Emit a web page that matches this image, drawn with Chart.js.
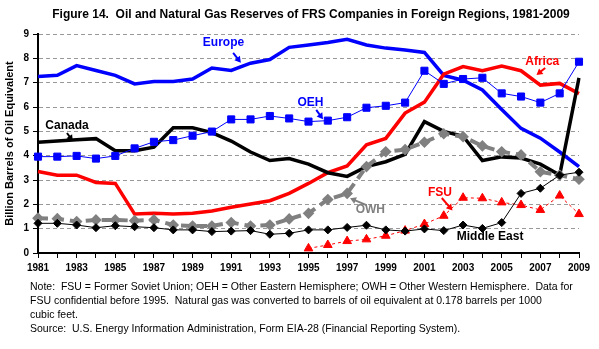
<!DOCTYPE html>
<html>
<head>
<meta charset="utf-8">
<script src="https://cdn.jsdelivr.net/npm/chart.js@4.4.1/dist/chart.umd.min.js"></script>
<style>
  body { margin: 0; background: #fff; }
  canvas { display: block; }
</style>
</head>
<body>
<canvas id="myChart" width="599" height="349"></canvas>
<script>
// values, billion barrels of oil equivalent
const years = ["1981", "1982", "1983", "1984", "1985", "1986", "1987", "1988", "1989", "1990",
  "1991", "1992", "1993", "1994", "1995", "1996", "1997", "1998", "1999", "2000",
  "2001", "2002", "2003", "2004", "2005", "2006", "2007", "2008", "2009"];

const europe = [7.25, 7.3, 7.7, 7.5, 7.3, 6.95, 7.05, 7.05, 7.15, 7.6, 7.5, 7.8, 7.95, 8.45, 8.55,
  8.65, 8.78, 8.55, 8.42, 8.34, 8.24, 7.3, 7.1, 6.7, 5.9, 5.12, 4.72, 4.15, 3.55];
const oeh = [3.96, 3.96, 3.99, 3.88, 3.99, 4.3, 4.57, 4.64, 4.82, 4.99, 5.49, 5.49, 5.63, 5.53, 5.4,
  5.44, 5.58, 5.97, 6.05, 6.18, 7.49, 6.95, 7.15, 7.2, 6.56, 6.43, 6.18, 6.56, 7.86];
const africa = [3.35, 3.2, 3.2, 2.9, 2.86, 1.6, 1.63, 1.6, 1.63, 1.73, 1.88, 2.01, 2.15, 2.45, 2.86,
  3.3, 3.58, 4.45, 4.71, 5.75, 6.2, 7.35, 7.66, 7.49, 7.68, 7.49, 6.9, 6.97, 6.55];
const canada = [4.55, 4.6, 4.65, 4.7, 4.2, 4.2, 4.35, 5.15, 5.15, 4.95, 4.6, 4.15, 3.8, 3.88, 3.65,
  3.3, 3.15, 3.55, 3.75, 4.05, 5.4, 5.0, 4.8, 3.8, 3.95, 3.9, 3.65, 3.2, 7.2];
const middleEast = [1.22, 1.22, 1.15, 1.04, 1.12, 1.08, 1.04, 0.95, 0.95, 0.88, 0.9, 0.92, 0.77, 0.81, 0.95,
  0.95, 1.05, 1.14, 0.95, 0.9, 0.99, 0.92, 1.15, 1.01, 1.25, 2.45, 2.66, 3.2, 3.32];
const owh = [1.43, 1.41, 1.29, 1.36, 1.36, 1.33, 1.36, 1.15, 1.11, 1.11, 1.25, 1.11, 1.15, 1.4, 1.63,
  2.2, 2.45, 3.55, 4.16, 4.25, 4.55, 4.9, 4.78, 4.4, 4.16, 4.03, 3.34, 3.2, 3.03];
const fsu = [null, null, null, null, null, null, null, null, null, null, null, null, null, null, 0.19,
  0.33, 0.49, 0.56, 0.71, 0.92, 1.19, 1.53, 2.27, 2.25, 2.08, 1.97, 1.77, 2.36, 1.6];

const yTicks = [0, 1, 2, 3, 4, 5, 6, 7, 8, 9];

const FONT = "'Liberation Sans', Arial, sans-serif";
const BLUE = "#0000ff";
const RED = "#ff0000";
const GREY = "#808080";

const title = "Figure 14.  Oil and Natural Gas Reserves of FRS Companies in Foreign Regions, 1981-2009";
const notes = [
  "Note:  FSU = Former Soviet Union; OEH = Other Eastern Hemisphere; OWH = Other Western Hemisphere.  Data for",
  "FSU confidential before 1995.  Natural gas was converted to barrels of oil equivalent at 0.178 barrels per 1000",
  "cubic feet.",
  "Source:  U.S. Energy Information Administration, Form EIA-28 (Financial Reporting System).",
];

// series labels, placed in data units (year, value)
const callouts = [
  { text: "Europe", color: BLUE, at: [1990.6, 8.63], arrow: [[1991.1, 8.22], [1991.5, 7.82]] },
  { text: "Canada", color: "#000", at: [1982.5, 5.22], arrow: [[1982.5, 4.93], [1982.8, 4.6]] },
  { text: "OEH", color: BLUE, at: [1995.1, 6.17], arrow: [[1995.4, 5.88], [1995.75, 5.5]] },
  { text: "Africa", color: RED, at: [2007.1, 7.85], arrow: [[2007.25, 7.6], [2006.8, 7.32]] },
  { text: "OWH", color: GREY, at: [1998.2, 1.77], arrow: [[1998.0, 1.97], [1997.15, 2.25]] },
  { text: "FSU", color: RED, at: [2001.8, 2.47], arrow: [[2001.9, 2.26], [2002.45, 1.75]] },
  { text: "Middle East", color: "#000", at: [2004.4, 0.66] },
];

function drawArrow(ctx, x1, y1, x2, y2, color) {
  const a = Math.atan2(y2 - y1, x2 - x1);
  ctx.strokeStyle = color;
  ctx.fillStyle = color;
  ctx.lineWidth = 2;
  ctx.beginPath();
  ctx.moveTo(x1, y1);
  ctx.lineTo(x2 - 3 * Math.cos(a), y2 - 3 * Math.sin(a));
  ctx.stroke();
  ctx.beginPath();
  ctx.moveTo(x2, y2);
  ctx.lineTo(x2 - 6 * Math.cos(a) + 3.5 * Math.sin(a), y2 - 6 * Math.sin(a) - 3.5 * Math.cos(a));
  ctx.lineTo(x2 - 6 * Math.cos(a) - 3.5 * Math.sin(a), y2 - 6 * Math.sin(a) + 3.5 * Math.cos(a));
  ctx.closePath();
  ctx.fill();
}

const textPlugin = {
  id: "figureText",
  afterDraw(chart) {
    const { ctx } = chart;
    const xs = chart.scales.x;
    const ys = chart.scales.y;
    const px = (yr) => xs.getPixelForValue(yr - 1981);
    const py = (v) => ys.getPixelForValue(v);

    ctx.save();
    ctx.fillStyle = "#000";
    ctx.textAlign = "center";
    ctx.textBaseline = "middle";
    ctx.font = "bold 12px " + FONT;
    ctx.fillText(title, 311, 15);

    callouts.forEach((c) => {
      ctx.font = "bold 12px " + FONT;
      ctx.fillStyle = c.color;
      ctx.textAlign = "center";
      ctx.fillText(c.text, px(c.at[0]), py(c.at[1]));
      if (c.arrow) {
        drawArrow(ctx, px(c.arrow[0][0]), py(c.arrow[0][1]), px(c.arrow[1][0]), py(c.arrow[1][1]), c.color);
      }
    });

    ctx.font = "10.5px " + FONT;
    ctx.fillStyle = "#000";
    ctx.textAlign = "left";
    notes.forEach((line, i) => {
      ctx.fillText(line, 30, 287 + i * 14);
    });
    ctx.restore();
  },
};

const tickFont = { family: FONT, size: 10, weight: "bold" };

const ctx = document.getElementById("myChart");

const chart = new Chart(ctx, {
  type: "line",
  data: {
    labels: years,
    datasets: [
      { label: "Middle East", data: middleEast, borderColor: "#000", backgroundColor: "#000", borderWidth: 1,
        pointStyle: "rectRot", pointRadius: 4, order: 0 },
      { label: "FSU", data: fsu, borderColor: RED, backgroundColor: RED, borderWidth: 1, borderDash: [3, 3],
        pointStyle: "triangle", pointRadius: 5, order: 0 },
      { label: "OEH", data: oeh, borderColor: BLUE, backgroundColor: BLUE, borderWidth: 1,
        pointStyle: "rect", pointRadius: 5, order: 0 },
      { label: "OWH", data: owh, borderColor: GREY, backgroundColor: GREY, borderWidth: 4, borderDash: [10, 6],
        pointStyle: "rectRot", pointRadius: 3, order: 1 },
      { label: "Canada", data: canada, borderColor: "#000", borderWidth: 3.5, pointRadius: 0, order: 1 },
      { label: "Africa", data: africa, borderColor: RED, borderWidth: 3.5, pointRadius: 0, order: 1 },
      { label: "Europe", data: europe, borderColor: BLUE, borderWidth: 3.5, pointRadius: 0, order: 1 },
    ],
  },
  options: {
    responsive: false,
    animation: false,
    devicePixelRatio: 1,
    layout: { padding: { left: 0, right: 20, top: 34, bottom: 76 } },
    elements: { line: { tension: 0 }, point: { borderWidth: 0, hoverRadius: 0 } },
    plugins: {
      legend: { display: false },
      title: { display: false },
      tooltip: { enabled: false },
    },
    scales: {
      x: {
        offset: false,
        grid: { drawOnChartArea: false, tickLength: 5, color: "#000" },
        border: { color: "#000", width: 2 },
        ticks: {
          autoSkip: false,
          maxRotation: 0,
          padding: 4,
          color: "#000",
          font: tickFont,
          callback: (v, i) => (i % 2 === 0 ? years[i] : ""),
        },
        afterFit: (s) => { s.height = 20; },
      },
      y: {
        min: 0,
        max: 9,
        afterBuildTicks: (s) => { s.ticks = yTicks.map((v) => ({ value: v })); },
        ticks: { padding: 4, color: "#000", font: tickFont },
        grid: {
          color: (c) => (c.tick && c.tick.value === 0 ? "rgba(0,0,0,0)" : "#999"),
          tickColor: "#000",
          tickLength: 5,
        },
        border: { color: "#000", width: 2, dash: [4, 3] },
        title: {
          display: true,
          text: "Billion Barrels of Oil Equivalent",
          color: "#000",
          font: { family: FONT, size: 11, weight: "bold" },
          padding: 3,
        },
        afterFit: (s) => { s.width = 38; },
      },
    },
  },
  plugins: [textPlugin],
});
</script>
</body>
</html>
